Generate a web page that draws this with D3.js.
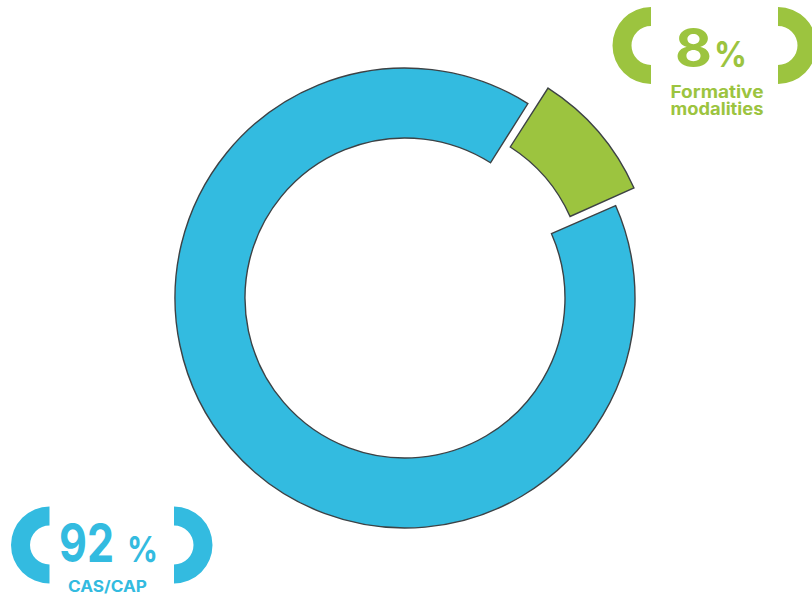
<!DOCTYPE html>
<html>
<head>
<meta charset="utf-8">
<script src="https://cdn.jsdelivr.net/npm/d3@7"></script>
<style>
  html, body { margin: 0; padding: 0; background: #ffffff; }
  svg { display: block; }
</style>
</head>
<body>
<svg id="chart" width="812" height="598"></svg>
<script>
// ---- data ----
const categories = ["Formative modalities", "CAS/CAP"];
const values = [8, 92];
const sublabels = [["Formative", "modalities"], ["CAS/CAP"]];
const colors = ["#9cc43f", "#33bbe0"];

// ---- layout / style ----
const cx = 405, cy = 298;
const outerR = 230, innerR = 160;
const deg = Math.PI / 180;
const startAngle = 34.9 * deg;
const explode = [25, 0];                      // radial offset per slice
const angleTweak = [2.25 * deg, -2.6 * deg];  // + widens slice, - leaves a gap

const svg = d3.select("#chart");
const g = svg.append("g").attr("transform", `translate(${cx},${cy})`);

const pie = d3.pie().sort(null).startAngle(startAngle).endAngle(startAngle + 2 * Math.PI);
const arcs = pie(values);
const arcGen = d3.arc().innerRadius(innerR).outerRadius(outerR);

[1, 0].forEach(i => {
  const a = arcs[i];
  const t = angleTweak[i];
  const d = { startAngle: a.startAngle - t, endAngle: a.endAngle + t };
  const mid = (a.startAngle + a.endAngle) / 2;
  const dx = explode[i] * Math.sin(mid), dy = -explode[i] * Math.cos(mid);
  g.append("path")
    .attr("d", arcGen(d))
    .attr("transform", `translate(${dx},${dy})`)
    .attr("fill", colors[i])
    .attr("stroke", "#3d4245")
    .attr("stroke-width", 1.4);
});

// ---- bracket labels ----
const bracketArc = d3.arc().innerRadius(19.5).outerRadius(38.5);
const FONT = "Inter, 'Open Sans', sans-serif";
const labelSpecs = [
  { i: 0, left: 651, right: 778, cy: 45.5,
    numX: 675, numW: 37, pctX: 714, pctW: 33, pctSize: 35, numBase: 67,
    subX: 717, subBase: 98, subDy: 16.8, subSize: 17, subW: [93, 93] },
  { i: 1, left: 49.5, right: 174, cy: 545,
    numX: 59, numW: 55, pctX: 127, pctW: 31, pctSize: 36, numBase: 562,
    subX: 107.5, subBase: 592, subDy: 0, subSize: 15.5, subW: [79] }
];

labelSpecs.forEach(s => {
  const col = colors[s.i];
  const lg = svg.append("g");
  lg.append("path")
    .attr("d", bracketArc({ startAngle: Math.PI, endAngle: 2 * Math.PI }))
    .attr("transform", `translate(${s.left},${s.cy})`)
    .attr("fill", col);
  lg.append("path")
    .attr("d", bracketArc({ startAngle: 0, endAngle: Math.PI }))
    .attr("transform", `translate(${s.right},${s.cy})`)
    .attr("fill", col);
  lg.append("text")
    .attr("x", s.numX).attr("y", s.numBase)
    .attr("font-family", FONT)
    .attr("font-weight", 700)
    .attr("font-size", 53)
    .attr("textLength", s.numW)
    .attr("lengthAdjust", "spacingAndGlyphs")
    .attr("fill", col)
    .text(String(values[s.i]));
  lg.append("text")
    .attr("x", s.pctX).attr("y", s.numBase)
    .attr("font-family", FONT)
    .attr("font-weight", 700)
    .attr("font-size", s.pctSize)
    .attr("textLength", s.pctW)
    .attr("lengthAdjust", "spacingAndGlyphs")
    .attr("fill", col)
    .text("%");
  const st = lg.append("text")
    .attr("text-anchor", "middle")
    .attr("font-family", FONT)
    .attr("font-weight", 700)
    .attr("font-size", s.subSize)
    .attr("fill", col);
  sublabels[s.i].forEach((line, k) => {
    st.append("tspan")
      .attr("x", s.subX)
      .attr("y", s.subBase + k * s.subDy)
      .attr("textLength", s.subW[k])
      .attr("lengthAdjust", "spacingAndGlyphs")
      .text(line);
  });
});
</script>
</body>
</html>
